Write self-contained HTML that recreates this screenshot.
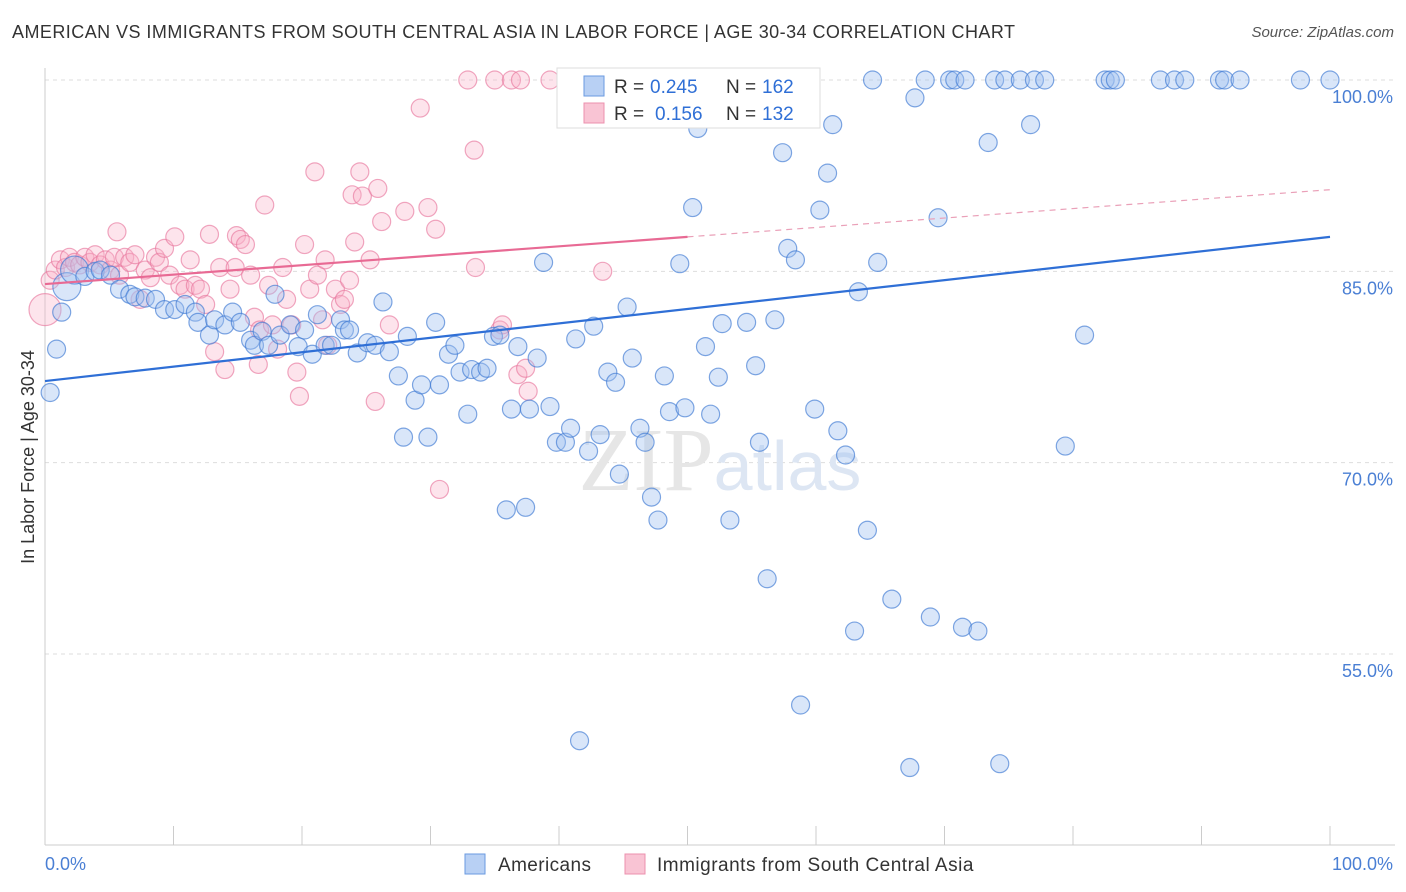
<!DOCTYPE html>
<html><head><meta charset="utf-8">
<style>
body{margin:0;background:#fff;font-family:"Liberation Sans",sans-serif;}
#wrap{position:relative;width:1406px;height:892px;overflow:hidden;}
.t{position:absolute;white-space:nowrap;}
</style></head>
<body>
<div id="wrap">
<div class="t" style="left:12px;top:22px;font-size:18px;letter-spacing:0.45px;color:#333;">AMERICAN VS IMMIGRANTS FROM SOUTH CENTRAL ASIA IN LABOR FORCE | AGE 30-34 CORRELATION CHART</div>
<div class="t" style="right:12px;top:24px;font-size:15px;color:#555;font-style:italic;">Source: ZipAtlas.com</div>
<svg id="chart" width="1406" height="892" style="position:absolute;left:0;top:0"></svg>
</div>
<script>
const xTicks=[0,10,20,30,40,50,60,70,80,90,100];
const yGrid=[100,85,70,55];
const yTickLabels=["100.0%","85.0%","70.0%","55.0%"];
const blueX=[0.4,0.9,1.3,1.7,2.3,3.1,3.9,4.3,5.1,5.8,6.6,7.0,7.8,8.6,9.3,10.1,10.9,11.7,11.9,12.8,13.2,14.0,14.6,15.2,16.0,16.3,16.9,17.4,17.9,18.3,19.1,19.7,20.2,20.8,21.2,21.8,22.3,23.0,23.3,23.7,24.3,25.1,25.7,26.3,26.8,27.5,27.9,28.2,28.8,29.3,29.8,30.4,30.7,31.4,31.9,32.3,32.9,33.2,33.9,34.4,34.9,35.4,35.9,36.3,36.8,37.4,37.7,38.3,38.8,39.3,39.8,40.5,40.9,41.3,41.6,42.3,42.7,43.2,43.8,44.4,44.7,45.3,45.7,46.3,46.7,47.2,47.7,48.2,48.6,49.4,49.8,50.4,50.8,51.4,51.8,52.4,52.7,53.3,54.1,54.6,55.3,55.6,56.2,56.8,57.4,57.8,58.4,58.8,59.1,59.9,60.3,60.9,61.3,61.7,62.3,63.0,63.3,64.0,64.4,64.8,65.9,67.3,67.7,68.5,68.9,69.5,70.4,70.8,71.6,71.4,72.6,73.4,73.9,74.3,74.7,75.9,76.7,77.0,77.8,79.4,80.9,82.5,82.9,83.3,86.8,87.9,88.7,91.4,91.8,93.0,97.7,100];
const blueY=[75.5,78.9,81.8,83.8,85.1,84.6,85.0,85.1,84.7,83.6,83.2,83.0,82.9,82.8,82.0,82.0,82.4,81.8,81.0,80.0,81.2,80.8,81.8,81.0,79.6,79.2,80.3,79.2,83.2,80.0,80.8,79.1,80.4,78.5,81.6,79.2,79.2,81.2,80.4,80.4,78.6,79.4,79.2,82.6,78.7,76.8,72.0,79.9,74.9,76.1,72.0,81.0,76.1,78.5,79.2,77.1,73.8,77.3,77.1,77.4,79.9,80.0,66.3,74.2,79.1,66.5,74.2,78.2,85.7,74.4,71.6,71.6,72.7,79.7,48.2,70.9,80.7,72.2,77.1,76.3,69.1,82.2,78.2,72.7,71.6,67.3,65.5,76.8,74.0,85.6,74.3,90.0,96.2,79.1,73.8,76.7,80.9,65.5,100,81.0,77.6,71.6,60.9,81.2,94.3,86.8,85.9,51.0,100,74.2,89.8,92.7,96.5,72.5,70.6,56.8,83.4,64.7,100,85.7,59.3,46.1,98.6,100,57.9,89.2,100,100,100,57.1,56.8,95.1,100,46.4,100,100,96.5,100,100,71.3,80.0,100,100,100,100,100,100,100,100,100,100,100];
const pinkX=[0,0.4,0.8,1.2,1.6,1.9,2.3,2.7,3.1,3.5,3.9,4.3,4.7,5.1,5.4,5.6,5.8,6.2,6.6,7.0,7.4,7.8,8.2,8.6,8.9,9.3,9.7,10.1,10.5,10.9,11.3,11.7,12.1,12.5,12.8,13.2,13.6,14.0,14.4,14.8,14.9,15.2,15.6,16.0,16.3,16.6,16.7,17.1,17.4,17.7,18.1,18.5,18.8,19.2,19.6,19.8,20.2,20.6,21.0,21.2,21.6,21.8,22.0,22.6,23.0,23.3,23.7,23.9,24.1,24.5,24.7,25.3,25.7,25.9,26.2,26.8,28.0,29.2,29.8,30.4,30.7,32.9,33.4,33.5,35.0,35.4,35.6,36.3,36.8,37.0,37.4,37.6,39.3,43.4,50.6];
const pinkY=[82.0,84.3,85.1,85.9,85.3,86.1,85.7,85.5,86.1,85.7,86.3,85.5,85.9,85.1,86.1,88.1,84.7,86.1,85.7,86.3,82.8,85.1,84.5,86.1,85.7,86.8,84.7,87.7,83.9,83.6,85.9,83.9,83.6,82.4,87.9,78.7,85.3,77.3,83.6,85.3,87.8,87.5,87.1,84.7,81.4,77.7,80.4,90.2,83.9,80.8,78.9,85.3,82.8,80.8,77.1,75.2,87.1,83.6,92.8,84.7,81.2,85.9,79.2,83.6,82.4,82.8,84.3,91.0,87.3,92.8,90.9,85.9,74.8,91.5,88.9,80.8,89.7,97.8,90.0,88.3,67.9,100,94.5,85.3,100,80.4,80.8,100,76.9,100,77.4,75.6,100,85.0,100];
const blueTrend=[76.4,87.7];
const pinkTrend=[84.0,87.7,91.4];

const L=45,R=1330,T=80,B=654;
const sx=v=>L+(R-L)*v/100;
const sy=v=>T+(B-T)*(100-v)/45;
const svg=document.getElementById('chart');
const NS='http://www.w3.org/2000/svg';
function mk(tag,attrs,parent){const e=document.createElementNS(NS,tag);for(const k in attrs)e.setAttribute(k,attrs[k]);(parent||svg).appendChild(e);return e;}

yGrid.forEach((v,i)=>{
 const g=mk('line',{x1:L,x2:1395,y1:sy(v),y2:sy(v),stroke:'#ddd','stroke-dasharray':'4,4'});
 
 
 const t=mk('text',{x:1393,y:sy(v)+23,'text-anchor':'end','font-size':18,fill:'#4a7fd4'});
 t.textContent=yTickLabels[i];
 
 
});
const ax=mk('line',{x1:L,x2:L,y1:68,y2:845,stroke:'#ccc'});


const bx=mk('line',{x1:L,x2:1395,y1:845,y2:845,stroke:'#ccc'});


xTicks.forEach(v=>{
 const tk=mk('line',{x1:sx(v),x2:sx(v),y1:826,y2:845,stroke:'#ccc'});
 
 
});
const xl0=mk('text',{x:45,y:870,'font-size':18,fill:'#4a7fd4'});xl0.textContent='0.0%';


const xl1=mk('text',{x:1393,y:870,'font-size':18,fill:'#4a7fd4','text-anchor':'end'});xl1.textContent='100.0%';


const yt=mk('text',{x:34,y:457,'font-size':18,fill:'#333','text-anchor':'middle',transform:'rotate(-90 34 457)'});yt.textContent='In Labor Force | Age 30-34';


const wm=mk('text',{x:720,y:490,'font-size':90,fill:'#e6e6e6','text-anchor':'middle','font-family':'Liberation Serif'});
wm.innerHTML='ZIP<tspan fill="#dde6f3" font-family="Liberation Sans" font-size="70">atlas</tspan>';



pinkX.forEach((x,i)=>{
 const c=mk('circle',{cx:sx(x),cy:sy(pinkY[i]),r:i===0?16:9,fill:'rgba(248,178,200,0.35)',stroke:'rgba(232,120,158,0.65)','stroke-width':1.2});
 
 
});
blueX.forEach((x,i)=>{
 const c=mk('circle',{cx:sx(x),cy:sy(blueY[i]),r:(i===3||i===4)?14:9,fill:'rgba(160,192,240,0.4)',stroke:'rgba(60,120,210,0.65)','stroke-width':1.2});
 
 
});
const bl=mk('line',{x1:sx(0),y1:sy(blueTrend[0]),x2:sx(100),y2:sy(blueTrend[1]),stroke:'#2f6fd6','stroke-width':2.2});


const pl=mk('line',{x1:sx(0),y1:sy(pinkTrend[0]),x2:sx(50),y2:sy(pinkTrend[1]),stroke:'#e86a94','stroke-width':2.2});


const pd=mk('line',{x1:sx(50),y1:sy(pinkTrend[1]),x2:sx(100),y2:sy(pinkTrend[2]),stroke:'#eaa0b8','stroke-width':1.2,'stroke-dasharray':'6,5'});



const lg=mk('g',{});


mk('rect',{x:557,y:68,width:263,height:60,fill:'#fff',stroke:'#ddd'},lg);
mk('rect',{x:584,y:76,width:20,height:20,fill:'#b8d0f4',stroke:'#6a9ae0'},lg);
mk('rect',{x:584,y:103,width:20,height:20,fill:'#f9c4d4',stroke:'#ec90ae'},lg);
function lt(x,y,s,c){const t=mk('text',{x:x,y:y,'font-size':19,fill:c},lg);t.textContent=s;return t;}
lt(614,93,'R =','#333');lt(650,93,'0.245','#2f6fd6');lt(726,93,'N =','#333');lt(762,93,'162','#2f6fd6');
lt(614,120,'R =','#333');lt(655,120,'0.156','#2f6fd6');lt(726,120,'N =','#333');lt(762,120,'132','#2f6fd6');

const bl2=mk('g',{});


mk('rect',{x:465,y:854,width:20,height:20,fill:'#b8d0f4',stroke:'#6a9ae0'},bl2);
const la=mk('text',{x:498,y:871,'font-size':19,fill:'#333','letter-spacing':'0.4'},bl2);la.textContent='Americans';
mk('rect',{x:625,y:854,width:20,height:20,fill:'#f9c4d4',stroke:'#ec90ae'},bl2);
const lb=mk('text',{x:657,y:871,'font-size':19,fill:'#333','letter-spacing':'0.5'},bl2);lb.textContent='Immigrants from South Central Asia';
</script>
</body></html>
